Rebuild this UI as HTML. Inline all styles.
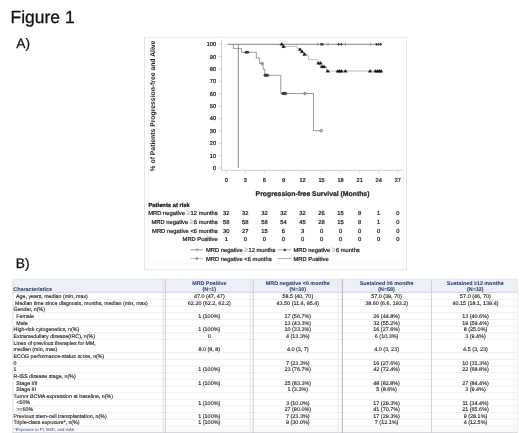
<!DOCTYPE html>
<html><head><meta charset="utf-8"><style>
html,body{margin:0;padding:0;background:#fff;}
svg{display:block;font-family:"Liberation Sans",sans-serif;will-change:transform;text-rendering:geometricPrecision;}
</style></head><body>
<svg width="520" height="433" viewBox="0 0 520 433">
<text x="10.5" y="22.7" font-size="17.5" fill="#111" stroke="#111" stroke-width="0.3">Figure 1</text>
<text x="16.2" y="47.5" font-size="13.8" fill="#111" stroke="#111" stroke-width="0.25">A)</text>
<text x="15.7" y="268.3" font-size="13.8" fill="#111" stroke="#111" stroke-width="0.25">B)</text>
<rect x="144.5" y="37.3" width="262" height="232.5" fill="none" stroke="#e6e6e6" stroke-width="1"/>
<path d="M148.5 40 V264 H403.5 V40" fill="none" stroke="#f3f3f3" stroke-width="0.8"/>
<path d="M221.5 39.8 V170.3 H402.6" fill="none" stroke="#c4c4c4" stroke-width="0.8"/>
<path d="M218 168.00 H221.5" stroke="#c8c8c8" stroke-width="0.7"/>
<text x="216.00" y="169.96" font-size="5.6" text-anchor="end" font-weight="normal" fill="#222" stroke="#222" stroke-width="0.24">0</text>
<path d="M218 155.63 H221.5" stroke="#c8c8c8" stroke-width="0.7"/>
<text x="216.00" y="157.59" font-size="5.6" text-anchor="end" font-weight="normal" fill="#222" stroke="#222" stroke-width="0.24">10</text>
<path d="M218 143.26 H221.5" stroke="#c8c8c8" stroke-width="0.7"/>
<text x="216.00" y="145.22" font-size="5.6" text-anchor="end" font-weight="normal" fill="#222" stroke="#222" stroke-width="0.24">20</text>
<path d="M218 130.89 H221.5" stroke="#c8c8c8" stroke-width="0.7"/>
<text x="216.00" y="132.85" font-size="5.6" text-anchor="end" font-weight="normal" fill="#222" stroke="#222" stroke-width="0.24">30</text>
<path d="M218 118.52 H221.5" stroke="#c8c8c8" stroke-width="0.7"/>
<text x="216.00" y="120.48" font-size="5.6" text-anchor="end" font-weight="normal" fill="#222" stroke="#222" stroke-width="0.24">40</text>
<path d="M218 106.15 H221.5" stroke="#c8c8c8" stroke-width="0.7"/>
<text x="216.00" y="108.11" font-size="5.6" text-anchor="end" font-weight="normal" fill="#222" stroke="#222" stroke-width="0.24">50</text>
<path d="M218 93.78 H221.5" stroke="#c8c8c8" stroke-width="0.7"/>
<text x="216.00" y="95.74" font-size="5.6" text-anchor="end" font-weight="normal" fill="#222" stroke="#222" stroke-width="0.24">60</text>
<path d="M218 81.41 H221.5" stroke="#c8c8c8" stroke-width="0.7"/>
<text x="216.00" y="83.37" font-size="5.6" text-anchor="end" font-weight="normal" fill="#222" stroke="#222" stroke-width="0.24">70</text>
<path d="M218 69.04 H221.5" stroke="#c8c8c8" stroke-width="0.7"/>
<text x="216.00" y="71.00" font-size="5.6" text-anchor="end" font-weight="normal" fill="#222" stroke="#222" stroke-width="0.24">80</text>
<path d="M218 56.67 H221.5" stroke="#c8c8c8" stroke-width="0.7"/>
<text x="216.00" y="58.63" font-size="5.6" text-anchor="end" font-weight="normal" fill="#222" stroke="#222" stroke-width="0.24">90</text>
<path d="M218 44.30 H221.5" stroke="#c8c8c8" stroke-width="0.7"/>
<text x="216.00" y="46.26" font-size="5.6" text-anchor="end" font-weight="normal" fill="#222" stroke="#222" stroke-width="0.24">100</text>
<path d="M226.30 170.3 V172.6" stroke="#c8c8c8" stroke-width="0.7"/>
<text x="226.30" y="182.16" font-size="5.6" text-anchor="middle" font-weight="normal" fill="#222" stroke="#222" stroke-width="0.24">0</text>
<path d="M245.35 170.3 V172.6" stroke="#c8c8c8" stroke-width="0.7"/>
<text x="245.35" y="182.16" font-size="5.6" text-anchor="middle" font-weight="normal" fill="#222" stroke="#222" stroke-width="0.24">3</text>
<path d="M264.40 170.3 V172.6" stroke="#c8c8c8" stroke-width="0.7"/>
<text x="264.40" y="182.16" font-size="5.6" text-anchor="middle" font-weight="normal" fill="#222" stroke="#222" stroke-width="0.24">6</text>
<path d="M283.45 170.3 V172.6" stroke="#c8c8c8" stroke-width="0.7"/>
<text x="283.45" y="182.16" font-size="5.6" text-anchor="middle" font-weight="normal" fill="#222" stroke="#222" stroke-width="0.24">9</text>
<path d="M302.50 170.3 V172.6" stroke="#c8c8c8" stroke-width="0.7"/>
<text x="302.50" y="182.16" font-size="5.6" text-anchor="middle" font-weight="normal" fill="#222" stroke="#222" stroke-width="0.24">12</text>
<path d="M321.55 170.3 V172.6" stroke="#c8c8c8" stroke-width="0.7"/>
<text x="321.55" y="182.16" font-size="5.6" text-anchor="middle" font-weight="normal" fill="#222" stroke="#222" stroke-width="0.24">15</text>
<path d="M340.60 170.3 V172.6" stroke="#c8c8c8" stroke-width="0.7"/>
<text x="340.60" y="182.16" font-size="5.6" text-anchor="middle" font-weight="normal" fill="#222" stroke="#222" stroke-width="0.24">18</text>
<path d="M359.65 170.3 V172.6" stroke="#c8c8c8" stroke-width="0.7"/>
<text x="359.65" y="182.16" font-size="5.6" text-anchor="middle" font-weight="normal" fill="#222" stroke="#222" stroke-width="0.24">21</text>
<path d="M378.70 170.3 V172.6" stroke="#c8c8c8" stroke-width="0.7"/>
<text x="378.70" y="182.16" font-size="5.6" text-anchor="middle" font-weight="normal" fill="#222" stroke="#222" stroke-width="0.24">24</text>
<path d="M397.75 170.3 V172.6" stroke="#c8c8c8" stroke-width="0.7"/>
<text x="397.75" y="182.16" font-size="5.6" text-anchor="middle" font-weight="normal" fill="#222" stroke="#222" stroke-width="0.24">27</text>
<text transform="translate(155.2 106) rotate(-90)" x="0" y="0" font-size="6.8" font-weight="bold" text-anchor="middle" fill="#222">% of Patients Progression-free and Alive</text>
<text x="312.50" y="195.59" font-size="6.83" text-anchor="middle" font-weight="bold" fill="#222" stroke="#222" stroke-width="0.24">Progression-free Survival (Months)</text>
<path d="M238.3 44.3 V168" fill="none" stroke="#666" stroke-width="0.75"/>
<path d="M233.4 44.3 V48.4 H241.5 V52.3 H256.3 V58.0 H259.2 V58.4 H259.6 V63.5 H263.0 V69.2 H264.8 V75.3 H280.8 V93.5 H313.5 V130.7 H321.1" fill="none" stroke="#7a7a7a" stroke-width="0.75"/>
<path d="M282 44.3 V46.4 H297.3 V48.5 H299.5 V50.5 H301.5 V52.5 H303.5 V54.5 H307.6 V55.8 H308.4 V59.6 H317 V63 H320 V66.5 H326.5 V71 H381" fill="none" stroke="#aaaaaa" stroke-width="0.8"/>
<path d="M227.3 44.3 H381.5" fill="none" stroke="#666" stroke-width="0.8"/>
<path d="M317.7 42.8 V45.8" stroke="#777" stroke-width="0.7"/>
<ellipse cx="321.2" cy="44.3" rx="0.9" ry="1.4" fill="#333"/>
<ellipse cx="322.6" cy="44.3" rx="0.9" ry="1.4" fill="#333"/>
<path d="M328 42.8 V45.8" stroke="#777" stroke-width="0.7"/>
<ellipse cx="338.5" cy="44.3" rx="0.9" ry="1.4" fill="#333"/>
<ellipse cx="341.3" cy="44.3" rx="0.9" ry="1.4" fill="#333"/>
<path d="M345.4 42.8 V45.8" stroke="#777" stroke-width="0.7"/>
<path d="M370.4 42.8 V45.8" stroke="#777" stroke-width="0.7"/>
<ellipse cx="376.5" cy="44.3" rx="0.9" ry="1.4" fill="#333"/>
<ellipse cx="378.6" cy="44.3" rx="0.9" ry="1.4" fill="#333"/>
<ellipse cx="380.8" cy="44.3" rx="0.9" ry="1.4" fill="#333"/>
<path d="M279.80 45.23 L281.70 42.38 L283.60 45.23 Z" fill="#111" stroke="#111" stroke-width="0.3" stroke-linejoin="round"/>
<path d="M281.70 47.63 L283.60 44.78 L285.50 47.63 Z" fill="#111" stroke="#111" stroke-width="0.3" stroke-linejoin="round"/>
<path d="M298.10 50.53 L300.00 47.68 L301.90 50.53 Z" fill="#111" stroke="#111" stroke-width="0.3" stroke-linejoin="round"/>
<path d="M300.10 52.73 L302.00 49.88 L303.90 52.73 Z" fill="#111" stroke="#111" stroke-width="0.3" stroke-linejoin="round"/>
<path d="M302.60 55.44 L304.50 52.59 L306.40 55.44 Z" fill="#111" stroke="#111" stroke-width="0.3" stroke-linejoin="round"/>
<path d="M316.60 64.23 L318.50 61.38 L320.40 64.23 Z" fill="#111" stroke="#111" stroke-width="0.3" stroke-linejoin="round"/>
<path d="M318.70 64.23 L320.60 61.38 L322.50 64.23 Z" fill="#111" stroke="#111" stroke-width="0.3" stroke-linejoin="round"/>
<path d="M320.10 67.73 L322.00 64.89 L323.90 67.73 Z" fill="#111" stroke="#111" stroke-width="0.3" stroke-linejoin="round"/>
<path d="M322.10 67.73 L324.00 64.89 L325.90 67.73 Z" fill="#111" stroke="#111" stroke-width="0.3" stroke-linejoin="round"/>
<path d="M325.90 72.23 L327.80 69.39 L329.70 72.23 Z" fill="#111" stroke="#111" stroke-width="0.3" stroke-linejoin="round"/>
<path d="M335.90 72.23 L337.80 69.39 L339.70 72.23 Z" fill="#111" stroke="#111" stroke-width="0.3" stroke-linejoin="round"/>
<path d="M337.70 72.23 L339.60 69.39 L341.50 72.23 Z" fill="#111" stroke="#111" stroke-width="0.3" stroke-linejoin="round"/>
<path d="M339.50 72.23 L341.40 69.39 L343.30 72.23 Z" fill="#111" stroke="#111" stroke-width="0.3" stroke-linejoin="round"/>
<path d="M343.50 72.23 L345.40 69.39 L347.30 72.23 Z" fill="#111" stroke="#111" stroke-width="0.3" stroke-linejoin="round"/>
<path d="M368.20 72.23 L370.10 69.39 L372.00 72.23 Z" fill="#111" stroke="#111" stroke-width="0.3" stroke-linejoin="round"/>
<path d="M373.60 72.23 L375.50 69.39 L377.40 72.23 Z" fill="#111" stroke="#111" stroke-width="0.3" stroke-linejoin="round"/>
<path d="M375.60 72.23 L377.50 69.39 L379.40 72.23 Z" fill="#111" stroke="#111" stroke-width="0.3" stroke-linejoin="round"/>
<path d="M377.60 72.23 L379.50 69.39 L381.40 72.23 Z" fill="#111" stroke="#111" stroke-width="0.3" stroke-linejoin="round"/>
<path d="M379.10 72.23 L381.00 69.39 L382.90 72.23 Z" fill="#111" stroke="#111" stroke-width="0.3" stroke-linejoin="round"/>
<circle cx="246.0" cy="52.3" r="1.05" fill="#444" stroke="#222" stroke-width="0.7"/>
<circle cx="247.8" cy="52.3" r="1.05" fill="#444" stroke="#222" stroke-width="0.7"/>
<circle cx="262.2" cy="63.5" r="1.2" fill="none" stroke="#666" stroke-width="0.7"/>
<circle cx="265.0" cy="75.3" r="1.15" fill="#555" stroke="#222" stroke-width="0.7"/>
<circle cx="266.4" cy="75.3" r="1.15" fill="#555" stroke="#222" stroke-width="0.7"/>
<circle cx="267.6" cy="75.3" r="1.15" fill="#555" stroke="#222" stroke-width="0.7"/>
<circle cx="283.0" cy="93.5" r="1.15" fill="#555" stroke="#222" stroke-width="0.7"/>
<circle cx="284.3" cy="93.5" r="1.15" fill="#555" stroke="#222" stroke-width="0.7"/>
<circle cx="285.6" cy="93.5" r="1.15" fill="#555" stroke="#222" stroke-width="0.7"/>
<circle cx="305" cy="93.5" r="1.4" fill="#999" stroke="#888" stroke-width="0.7"/>
<circle cx="321.1" cy="130.7" r="1.4" fill="#bbb" stroke="#777" stroke-width="0.7"/>
<text x="148.50" y="206.53" font-size="5.8" text-anchor="start" font-weight="bold" fill="#111" stroke="#111" stroke-width="0.24">Patients at risk</text>
<text x="217.70" y="215.23" font-size="5.8" text-anchor="end" font-weight="normal" fill="#222" stroke="#222" stroke-width="0.24">MRD negative <tspan font-size="7.4" fill="#b0b0b0" stroke="#b0b0b0" stroke-width="0.1">≥</tspan>12 months</text>
<text x="226.30" y="215.23" font-size="5.8" text-anchor="middle" font-weight="normal" fill="#222" stroke="#222" stroke-width="0.24">32</text>
<text x="245.35" y="215.23" font-size="5.8" text-anchor="middle" font-weight="normal" fill="#222" stroke="#222" stroke-width="0.24">32</text>
<text x="264.40" y="215.23" font-size="5.8" text-anchor="middle" font-weight="normal" fill="#222" stroke="#222" stroke-width="0.24">32</text>
<text x="283.45" y="215.23" font-size="5.8" text-anchor="middle" font-weight="normal" fill="#222" stroke="#222" stroke-width="0.24">32</text>
<text x="302.50" y="215.23" font-size="5.8" text-anchor="middle" font-weight="normal" fill="#222" stroke="#222" stroke-width="0.24">32</text>
<text x="321.55" y="215.23" font-size="5.8" text-anchor="middle" font-weight="normal" fill="#222" stroke="#222" stroke-width="0.24">26</text>
<text x="340.60" y="215.23" font-size="5.8" text-anchor="middle" font-weight="normal" fill="#222" stroke="#222" stroke-width="0.24">15</text>
<text x="359.65" y="215.23" font-size="5.8" text-anchor="middle" font-weight="normal" fill="#222" stroke="#222" stroke-width="0.24">8</text>
<text x="378.70" y="215.23" font-size="5.8" text-anchor="middle" font-weight="normal" fill="#222" stroke="#222" stroke-width="0.24">1</text>
<text x="397.75" y="215.23" font-size="5.8" text-anchor="middle" font-weight="normal" fill="#222" stroke="#222" stroke-width="0.24">0</text>
<text x="217.70" y="223.83" font-size="5.8" text-anchor="end" font-weight="normal" fill="#222" stroke="#222" stroke-width="0.24">MRD negative <tspan font-size="7.4" fill="#b0b0b0" stroke="#b0b0b0" stroke-width="0.1">≥</tspan>6 months</text>
<text x="226.30" y="223.83" font-size="5.8" text-anchor="middle" font-weight="normal" fill="#222" stroke="#222" stroke-width="0.24">58</text>
<text x="245.35" y="223.83" font-size="5.8" text-anchor="middle" font-weight="normal" fill="#222" stroke="#222" stroke-width="0.24">58</text>
<text x="264.40" y="223.83" font-size="5.8" text-anchor="middle" font-weight="normal" fill="#222" stroke="#222" stroke-width="0.24">58</text>
<text x="283.45" y="223.83" font-size="5.8" text-anchor="middle" font-weight="normal" fill="#222" stroke="#222" stroke-width="0.24">54</text>
<text x="302.50" y="223.83" font-size="5.8" text-anchor="middle" font-weight="normal" fill="#222" stroke="#222" stroke-width="0.24">45</text>
<text x="321.55" y="223.83" font-size="5.8" text-anchor="middle" font-weight="normal" fill="#222" stroke="#222" stroke-width="0.24">28</text>
<text x="340.60" y="223.83" font-size="5.8" text-anchor="middle" font-weight="normal" fill="#222" stroke="#222" stroke-width="0.24">15</text>
<text x="359.65" y="223.83" font-size="5.8" text-anchor="middle" font-weight="normal" fill="#222" stroke="#222" stroke-width="0.24">8</text>
<text x="378.70" y="223.83" font-size="5.8" text-anchor="middle" font-weight="normal" fill="#222" stroke="#222" stroke-width="0.24">1</text>
<text x="397.75" y="223.83" font-size="5.8" text-anchor="middle" font-weight="normal" fill="#222" stroke="#222" stroke-width="0.24">0</text>
<text x="217.70" y="232.63" font-size="5.8" text-anchor="end" font-weight="normal" fill="#222" stroke="#222" stroke-width="0.24">MRD negative &lt;6 months</text>
<text x="226.30" y="232.63" font-size="5.8" text-anchor="middle" font-weight="normal" fill="#222" stroke="#222" stroke-width="0.24">30</text>
<text x="245.35" y="232.63" font-size="5.8" text-anchor="middle" font-weight="normal" fill="#222" stroke="#222" stroke-width="0.24">27</text>
<text x="264.40" y="232.63" font-size="5.8" text-anchor="middle" font-weight="normal" fill="#222" stroke="#222" stroke-width="0.24">15</text>
<text x="283.45" y="232.63" font-size="5.8" text-anchor="middle" font-weight="normal" fill="#222" stroke="#222" stroke-width="0.24">6</text>
<text x="302.50" y="232.63" font-size="5.8" text-anchor="middle" font-weight="normal" fill="#222" stroke="#222" stroke-width="0.24">3</text>
<text x="321.55" y="232.63" font-size="5.8" text-anchor="middle" font-weight="normal" fill="#222" stroke="#222" stroke-width="0.24">0</text>
<text x="340.60" y="232.63" font-size="5.8" text-anchor="middle" font-weight="normal" fill="#222" stroke="#222" stroke-width="0.24">0</text>
<text x="359.65" y="232.63" font-size="5.8" text-anchor="middle" font-weight="normal" fill="#222" stroke="#222" stroke-width="0.24">0</text>
<text x="378.70" y="232.63" font-size="5.8" text-anchor="middle" font-weight="normal" fill="#222" stroke="#222" stroke-width="0.24">0</text>
<text x="397.75" y="232.63" font-size="5.8" text-anchor="middle" font-weight="normal" fill="#222" stroke="#222" stroke-width="0.24">0</text>
<text x="217.70" y="241.03" font-size="5.8" text-anchor="end" font-weight="normal" fill="#222" stroke="#222" stroke-width="0.24">MRD Positive</text>
<text x="226.30" y="241.03" font-size="5.8" text-anchor="middle" font-weight="normal" fill="#222" stroke="#222" stroke-width="0.24">1</text>
<text x="245.35" y="241.03" font-size="5.8" text-anchor="middle" font-weight="normal" fill="#222" stroke="#222" stroke-width="0.24">0</text>
<text x="264.40" y="241.03" font-size="5.8" text-anchor="middle" font-weight="normal" fill="#222" stroke="#222" stroke-width="0.24">0</text>
<text x="283.45" y="241.03" font-size="5.8" text-anchor="middle" font-weight="normal" fill="#222" stroke="#222" stroke-width="0.24">0</text>
<text x="302.50" y="241.03" font-size="5.8" text-anchor="middle" font-weight="normal" fill="#222" stroke="#222" stroke-width="0.24">0</text>
<text x="321.55" y="241.03" font-size="5.8" text-anchor="middle" font-weight="normal" fill="#222" stroke="#222" stroke-width="0.24">0</text>
<text x="340.60" y="241.03" font-size="5.8" text-anchor="middle" font-weight="normal" fill="#222" stroke="#222" stroke-width="0.24">0</text>
<text x="359.65" y="241.03" font-size="5.8" text-anchor="middle" font-weight="normal" fill="#222" stroke="#222" stroke-width="0.24">0</text>
<text x="378.70" y="241.03" font-size="5.8" text-anchor="middle" font-weight="normal" fill="#222" stroke="#222" stroke-width="0.24">0</text>
<text x="397.75" y="241.03" font-size="5.8" text-anchor="middle" font-weight="normal" fill="#222" stroke="#222" stroke-width="0.24">0</text>
<path d="M190.6 249.8 H203" stroke="#666" stroke-width="0.7"/><path d="M197.2 248.4 V251.2" stroke="#666" stroke-width="0.7"/>
<text x="206.00" y="251.73" font-size="5.8" text-anchor="start" font-weight="normal" fill="#222" stroke="#222" stroke-width="0.24">MRD negative <tspan font-size="7.4" fill="#b0b0b0" stroke="#b0b0b0" stroke-width="0.1">≥</tspan>12 months</text>
<path d="M190.6 258.5 H203" stroke="#999" stroke-width="0.7"/>
<circle cx="196.8" cy="258.5" r="1.1" fill="#999" stroke="#888" stroke-width="0.7"/>
<text x="206.00" y="260.63" font-size="5.8" text-anchor="start" font-weight="normal" fill="#222" stroke="#222" stroke-width="0.24">MRD negative &lt;6 months</text>
<path d="M277.7 249.8 H291.5" stroke="#888" stroke-width="0.7"/>
<path d="M283.50 250.65 L284.80 248.70 L286.10 250.65 Z" fill="#111" stroke="#111" stroke-width="0.3" stroke-linejoin="round"/>
<text x="293.50" y="251.73" font-size="5.8" text-anchor="start" font-weight="normal" fill="#222" stroke="#222" stroke-width="0.24">MRD negative <tspan font-size="7.4" fill="#b0b0b0" stroke="#b0b0b0" stroke-width="0.1">≥</tspan>6 months</text>
<path d="M277.7 258.5 H291.5" stroke="#888" stroke-width="0.7"/>
<text x="293.50" y="260.63" font-size="5.8" text-anchor="start" font-weight="normal" fill="#222" stroke="#222" stroke-width="0.24">MRD Positive</text>
<rect x="12.5" y="279.2" width="505.1" height="13.100000000000023" fill="#eceff7"/>
<path d="M12.5 279.2 H517.6" stroke="#e2e5ec" stroke-width="0.8"/>
<path d="M12.5 292.3 H517.6" stroke="#cfd3da" stroke-width="0.9"/>
<path d="M12.5 299.55 H517.6" stroke="#e9e9e9" stroke-width="0.7"/>
<path d="M12.5 306.20 H517.6" stroke="#e9e9e9" stroke-width="0.7"/>
<path d="M12.5 312.85 H517.6" stroke="#e9e9e9" stroke-width="0.7"/>
<path d="M12.5 319.50 H517.6" stroke="#e9e9e9" stroke-width="0.7"/>
<path d="M12.5 326.15 H517.6" stroke="#e9e9e9" stroke-width="0.7"/>
<path d="M12.5 332.80 H517.6" stroke="#e9e9e9" stroke-width="0.7"/>
<path d="M12.5 339.45 H517.6" stroke="#e9e9e9" stroke-width="0.7"/>
<path d="M12.5 352.75 H517.6" stroke="#e9e9e9" stroke-width="0.7"/>
<path d="M12.5 359.40 H517.6" stroke="#e9e9e9" stroke-width="0.7"/>
<path d="M12.5 366.05 H517.6" stroke="#e9e9e9" stroke-width="0.7"/>
<path d="M12.5 372.70 H517.6" stroke="#e9e9e9" stroke-width="0.7"/>
<path d="M12.5 379.35 H517.6" stroke="#e9e9e9" stroke-width="0.7"/>
<path d="M12.5 386.00 H517.6" stroke="#e9e9e9" stroke-width="0.7"/>
<path d="M12.5 392.65 H517.6" stroke="#e9e9e9" stroke-width="0.7"/>
<path d="M12.5 399.30 H517.6" stroke="#e9e9e9" stroke-width="0.7"/>
<path d="M12.5 405.95 H517.6" stroke="#e9e9e9" stroke-width="0.7"/>
<path d="M12.5 412.60 H517.6" stroke="#e9e9e9" stroke-width="0.7"/>
<path d="M12.5 419.25 H517.6" stroke="#e9e9e9" stroke-width="0.7"/>
<path d="M12.5 425.90 H517.6" stroke="#e9e9e9" stroke-width="0.7"/>
<rect x="12.5" y="425.90" width="505.1" height="7.10" fill="#fafafc"/>
<path d="M12.5 432.5 H517.6" stroke="#d8d8dc" stroke-width="1"/>
<path d="M163.2 279.2 V433" stroke="#dedede" stroke-width="0.8"/>
<path d="M165.3 279.2 V433" stroke="#c4c4c4" stroke-width="0.8"/>
<path d="M250.4 279.2 V433" stroke="#e2e2e2" stroke-width="0.8"/>
<path d="M253.2 279.2 V433" stroke="#c4c4c4" stroke-width="0.8"/>
<path d="M338.3 279.2 V433" stroke="#e2e2e2" stroke-width="0.8"/>
<path d="M342.3 279.2 V433" stroke="#a8a8a8" stroke-width="0.8"/>
<path d="M431.5 279.2 V433" stroke="#cccccc" stroke-width="0.8"/>
<path d="M514.0 279.2 V433" stroke="#eeeeee" stroke-width="0.8"/>
<path d="M12.8 279.2 V433" stroke="#dddddd" stroke-width="0.8"/>
<path d="M517.6 279.2 V433" stroke="#e6e6e6" stroke-width="0.8"/>
<text x="13.30" y="290.78" font-size="5.36" text-anchor="start" font-weight="bold" fill="#2f3b72" stroke="#2f3b72" stroke-width="0.05">Characteristics</text>
<text x="209.30" y="284.78" font-size="5.36" text-anchor="middle" font-weight="bold" fill="#2f3b72" stroke="#2f3b72" stroke-width="0.05">MRD Positive</text>
<text x="209.30" y="290.88" font-size="5.36" text-anchor="middle" font-weight="bold" fill="#2f3b72" stroke="#2f3b72" stroke-width="0.05">(N=1)</text>
<text x="297.80" y="284.78" font-size="5.36" text-anchor="middle" font-weight="bold" fill="#2f3b72" stroke="#2f3b72" stroke-width="0.05">MRD negative &lt;6 months</text>
<text x="297.80" y="290.88" font-size="5.36" text-anchor="middle" font-weight="bold" fill="#2f3b72" stroke="#2f3b72" stroke-width="0.05">(N=30)</text>
<text x="386.60" y="284.78" font-size="5.36" text-anchor="middle" font-weight="bold" fill="#2f3b72" stroke="#2f3b72" stroke-width="0.05">Sustained ≥6 months</text>
<text x="386.60" y="290.88" font-size="5.36" text-anchor="middle" font-weight="bold" fill="#2f3b72" stroke="#2f3b72" stroke-width="0.05">(N=58)</text>
<text x="475.30" y="284.78" font-size="5.36" text-anchor="middle" font-weight="bold" fill="#2f3b72" stroke="#2f3b72" stroke-width="0.05">Sustained ≥12 months</text>
<text x="475.30" y="290.88" font-size="5.36" text-anchor="middle" font-weight="bold" fill="#2f3b72" stroke="#2f3b72" stroke-width="0.05">(N=32)</text>
<text x="16.10" y="298.05" font-size="5.28" text-anchor="start" font-weight="normal" fill="#1c1c1c" stroke="#1c1c1c" stroke-width="0.13">Age, years, median (min, max)</text>
<text x="15.00" y="304.70" font-size="5.28" text-anchor="start" font-weight="normal" fill="#1c1c1c" stroke="#1c1c1c" stroke-width="0.13">Median time since diagnosis, months, median (min, max)</text>
<text x="13.60" y="311.35" font-size="5.28" text-anchor="start" font-weight="normal" fill="#1c1c1c" stroke="#1c1c1c" stroke-width="0.13">Gender, n(%)</text>
<text x="16.30" y="318.00" font-size="5.28" text-anchor="start" font-weight="normal" fill="#1c1c1c" stroke="#1c1c1c" stroke-width="0.13">Female</text>
<text x="16.30" y="324.65" font-size="5.28" text-anchor="start" font-weight="normal" fill="#1c1c1c" stroke="#1c1c1c" stroke-width="0.13">Male</text>
<text x="13.60" y="331.30" font-size="5.28" text-anchor="start" font-weight="normal" fill="#1c1c1c" stroke="#1c1c1c" stroke-width="0.13">High-risk cytogenetics, n(%)</text>
<text x="13.60" y="337.95" font-size="5.28" text-anchor="start" font-weight="normal" fill="#1c1c1c" stroke="#1c1c1c" stroke-width="0.13">Extramedullary disease(IRC), n(%)</text>
<text x="13.60" y="344.60" font-size="5.28" text-anchor="start" font-weight="normal" fill="#1c1c1c" stroke="#1c1c1c" stroke-width="0.13">Lines of previous therapies for MM,</text>
<text x="13.60" y="351.25" font-size="5.28" text-anchor="start" font-weight="normal" fill="#1c1c1c" stroke="#1c1c1c" stroke-width="0.13">median (min, max)</text>
<text x="13.60" y="357.90" font-size="5.28" text-anchor="start" font-weight="normal" fill="#1c1c1c" stroke="#1c1c1c" stroke-width="0.13">ECOG performance-status score, n(%)</text>
<text x="13.60" y="364.55" font-size="5.28" text-anchor="start" font-weight="normal" fill="#1c1c1c" stroke="#1c1c1c" stroke-width="0.13">0</text>
<text x="13.60" y="371.20" font-size="5.28" text-anchor="start" font-weight="normal" fill="#1c1c1c" stroke="#1c1c1c" stroke-width="0.13">1</text>
<text x="13.60" y="377.85" font-size="5.28" text-anchor="start" font-weight="normal" fill="#1c1c1c" stroke="#1c1c1c" stroke-width="0.13">R-ISS disease stage, n(%)</text>
<text x="16.30" y="384.50" font-size="5.28" text-anchor="start" font-weight="normal" fill="#1c1c1c" stroke="#1c1c1c" stroke-width="0.13">Stage I/II</text>
<text x="16.30" y="391.15" font-size="5.28" text-anchor="start" font-weight="normal" fill="#1c1c1c" stroke="#1c1c1c" stroke-width="0.13">Stage III</text>
<text x="13.60" y="397.80" font-size="5.28" text-anchor="start" font-weight="normal" fill="#1c1c1c" stroke="#1c1c1c" stroke-width="0.13">Tumor BCMA expression at baseline, n(%)</text>
<text x="16.50" y="404.45" font-size="5.28" text-anchor="start" font-weight="normal" fill="#1c1c1c" stroke="#1c1c1c" stroke-width="0.13">&lt;50%</text>
<text x="16.50" y="411.10" font-size="5.28" text-anchor="start" font-weight="normal" fill="#1c1c1c" stroke="#1c1c1c" stroke-width="0.13">&gt;=50%</text>
<text x="13.60" y="417.75" font-size="5.28" text-anchor="start" font-weight="normal" fill="#1c1c1c" stroke="#1c1c1c" stroke-width="0.13">Previous stem-cell transplantation, n(%)</text>
<text x="13.60" y="424.40" font-size="5.28" text-anchor="start" font-weight="normal" fill="#1c1c1c" stroke="#1c1c1c" stroke-width="0.13">Triple-class exposure*, n(%)</text>
<text x="14.30" y="430.69" font-size="4.25" text-anchor="start" font-weight="normal" fill="#3a4a9a">*Exposure to PI, IMiD, and mAb</text>
<text x="209.30" y="298.11" font-size="5.45" text-anchor="middle" font-weight="normal" fill="#1c1c1c" stroke="#1c1c1c" stroke-width="0.13">47.0 (47, 47)</text>
<text x="297.80" y="298.11" font-size="5.45" text-anchor="middle" font-weight="normal" fill="#1c1c1c" stroke="#1c1c1c" stroke-width="0.13">58.5 (40, 70)</text>
<text x="386.60" y="298.11" font-size="5.45" text-anchor="middle" font-weight="normal" fill="#1c1c1c" stroke="#1c1c1c" stroke-width="0.13">57.0 (39, 70)</text>
<text x="475.50" y="298.11" font-size="5.45" text-anchor="middle" font-weight="normal" fill="#1c1c1c" stroke="#1c1c1c" stroke-width="0.13">57.0 (46, 70)</text>
<text x="209.30" y="304.76" font-size="5.45" text-anchor="middle" font-weight="normal" fill="#1c1c1c" stroke="#1c1c1c" stroke-width="0.13">62.20 (62.2, 62.2)</text>
<text x="297.80" y="304.76" font-size="5.45" text-anchor="middle" font-weight="normal" fill="#1c1c1c" stroke="#1c1c1c" stroke-width="0.13">43.50 (11.4, 95.4)</text>
<text x="386.60" y="304.76" font-size="5.45" text-anchor="middle" font-weight="normal" fill="#1c1c1c" stroke="#1c1c1c" stroke-width="0.13">38.60 (6.6, 193.2)</text>
<text x="475.50" y="304.76" font-size="5.45" text-anchor="middle" font-weight="normal" fill="#1c1c1c" stroke="#1c1c1c" stroke-width="0.13">40.15 (18.1, 139.4)</text>
<text x="209.30" y="318.06" font-size="5.45" text-anchor="middle" font-weight="normal" fill="#1c1c1c" stroke="#1c1c1c" stroke-width="0.13">1 (100%)</text>
<text x="297.80" y="318.06" font-size="5.45" text-anchor="middle" font-weight="normal" fill="#1c1c1c" stroke="#1c1c1c" stroke-width="0.13">17 (56.7%)</text>
<text x="386.60" y="318.06" font-size="5.45" text-anchor="middle" font-weight="normal" fill="#1c1c1c" stroke="#1c1c1c" stroke-width="0.13">26 (44.8%)</text>
<text x="475.50" y="318.06" font-size="5.45" text-anchor="middle" font-weight="normal" fill="#1c1c1c" stroke="#1c1c1c" stroke-width="0.13">13 (40.6%)</text>
<text x="297.80" y="324.71" font-size="5.45" text-anchor="middle" font-weight="normal" fill="#1c1c1c" stroke="#1c1c1c" stroke-width="0.13">13 (43.3%)</text>
<text x="386.60" y="324.71" font-size="5.45" text-anchor="middle" font-weight="normal" fill="#1c1c1c" stroke="#1c1c1c" stroke-width="0.13">32 (55.2%)</text>
<text x="475.50" y="324.71" font-size="5.45" text-anchor="middle" font-weight="normal" fill="#1c1c1c" stroke="#1c1c1c" stroke-width="0.13">19 (59.4%)</text>
<text x="209.30" y="331.36" font-size="5.45" text-anchor="middle" font-weight="normal" fill="#1c1c1c" stroke="#1c1c1c" stroke-width="0.13">1 (100%)</text>
<text x="297.80" y="331.36" font-size="5.45" text-anchor="middle" font-weight="normal" fill="#1c1c1c" stroke="#1c1c1c" stroke-width="0.13">10 (33.3%)</text>
<text x="386.60" y="331.36" font-size="5.45" text-anchor="middle" font-weight="normal" fill="#1c1c1c" stroke="#1c1c1c" stroke-width="0.13">16 (27.6%)</text>
<text x="475.50" y="331.36" font-size="5.45" text-anchor="middle" font-weight="normal" fill="#1c1c1c" stroke="#1c1c1c" stroke-width="0.13">8 (25.0%)</text>
<text x="209.30" y="338.01" font-size="5.45" text-anchor="middle" font-weight="normal" fill="#1c1c1c" stroke="#1c1c1c" stroke-width="0.13">0</text>
<text x="297.80" y="338.01" font-size="5.45" text-anchor="middle" font-weight="normal" fill="#1c1c1c" stroke="#1c1c1c" stroke-width="0.13">4 (13.3%)</text>
<text x="386.60" y="338.01" font-size="5.45" text-anchor="middle" font-weight="normal" fill="#1c1c1c" stroke="#1c1c1c" stroke-width="0.13">6 (10.3%)</text>
<text x="475.50" y="338.01" font-size="5.45" text-anchor="middle" font-weight="normal" fill="#1c1c1c" stroke="#1c1c1c" stroke-width="0.13">3 (9.4%)</text>
<text x="209.30" y="351.31" font-size="5.45" text-anchor="middle" font-weight="normal" fill="#1c1c1c" stroke="#1c1c1c" stroke-width="0.13">8.0 (8, 8)</text>
<text x="297.80" y="351.31" font-size="5.45" text-anchor="middle" font-weight="normal" fill="#1c1c1c" stroke="#1c1c1c" stroke-width="0.13">4.0 (3, 7)</text>
<text x="386.60" y="351.31" font-size="5.45" text-anchor="middle" font-weight="normal" fill="#1c1c1c" stroke="#1c1c1c" stroke-width="0.13">4.0 (3, 23)</text>
<text x="475.50" y="351.31" font-size="5.45" text-anchor="middle" font-weight="normal" fill="#1c1c1c" stroke="#1c1c1c" stroke-width="0.13">4.5 (3, 23)</text>
<text x="297.80" y="364.61" font-size="5.45" text-anchor="middle" font-weight="normal" fill="#1c1c1c" stroke="#1c1c1c" stroke-width="0.13">7 (23.3%)</text>
<text x="386.60" y="364.61" font-size="5.45" text-anchor="middle" font-weight="normal" fill="#1c1c1c" stroke="#1c1c1c" stroke-width="0.13">16 (27.6%)</text>
<text x="475.50" y="364.61" font-size="5.45" text-anchor="middle" font-weight="normal" fill="#1c1c1c" stroke="#1c1c1c" stroke-width="0.13">10 (31.3%)</text>
<text x="209.30" y="371.26" font-size="5.45" text-anchor="middle" font-weight="normal" fill="#1c1c1c" stroke="#1c1c1c" stroke-width="0.13">1 (100%)</text>
<text x="297.80" y="371.26" font-size="5.45" text-anchor="middle" font-weight="normal" fill="#1c1c1c" stroke="#1c1c1c" stroke-width="0.13">23 (76.7%)</text>
<text x="386.60" y="371.26" font-size="5.45" text-anchor="middle" font-weight="normal" fill="#1c1c1c" stroke="#1c1c1c" stroke-width="0.13">42 (72.4%)</text>
<text x="475.50" y="371.26" font-size="5.45" text-anchor="middle" font-weight="normal" fill="#1c1c1c" stroke="#1c1c1c" stroke-width="0.13">22 (68.8%)</text>
<text x="209.30" y="384.56" font-size="5.45" text-anchor="middle" font-weight="normal" fill="#1c1c1c" stroke="#1c1c1c" stroke-width="0.13">1 (100%)</text>
<text x="297.80" y="384.56" font-size="5.45" text-anchor="middle" font-weight="normal" fill="#1c1c1c" stroke="#1c1c1c" stroke-width="0.13">25 (83.3%)</text>
<text x="386.60" y="384.56" font-size="5.45" text-anchor="middle" font-weight="normal" fill="#1c1c1c" stroke="#1c1c1c" stroke-width="0.13">48 (82.8%)</text>
<text x="475.50" y="384.56" font-size="5.45" text-anchor="middle" font-weight="normal" fill="#1c1c1c" stroke="#1c1c1c" stroke-width="0.13">27 (84.4%)</text>
<text x="297.80" y="391.21" font-size="5.45" text-anchor="middle" font-weight="normal" fill="#1c1c1c" stroke="#1c1c1c" stroke-width="0.13">1 (3.3%)</text>
<text x="386.60" y="391.21" font-size="5.45" text-anchor="middle" font-weight="normal" fill="#1c1c1c" stroke="#1c1c1c" stroke-width="0.13">5 (8.6%)</text>
<text x="475.50" y="391.21" font-size="5.45" text-anchor="middle" font-weight="normal" fill="#1c1c1c" stroke="#1c1c1c" stroke-width="0.13">3 (9.4%)</text>
<text x="209.30" y="404.51" font-size="5.45" text-anchor="middle" font-weight="normal" fill="#1c1c1c" stroke="#1c1c1c" stroke-width="0.13">1 (100%)</text>
<text x="297.80" y="404.51" font-size="5.45" text-anchor="middle" font-weight="normal" fill="#1c1c1c" stroke="#1c1c1c" stroke-width="0.13">3 (10.0%)</text>
<text x="386.60" y="404.51" font-size="5.45" text-anchor="middle" font-weight="normal" fill="#1c1c1c" stroke="#1c1c1c" stroke-width="0.13">17 (29.3%)</text>
<text x="475.50" y="404.51" font-size="5.45" text-anchor="middle" font-weight="normal" fill="#1c1c1c" stroke="#1c1c1c" stroke-width="0.13">11 (34.4%)</text>
<text x="297.80" y="411.16" font-size="5.45" text-anchor="middle" font-weight="normal" fill="#1c1c1c" stroke="#1c1c1c" stroke-width="0.13">27 (90.0%)</text>
<text x="386.60" y="411.16" font-size="5.45" text-anchor="middle" font-weight="normal" fill="#1c1c1c" stroke="#1c1c1c" stroke-width="0.13">41 (70.7%)</text>
<text x="475.50" y="411.16" font-size="5.45" text-anchor="middle" font-weight="normal" fill="#1c1c1c" stroke="#1c1c1c" stroke-width="0.13">21 (65.6%)</text>
<text x="209.30" y="417.81" font-size="5.45" text-anchor="middle" font-weight="normal" fill="#1c1c1c" stroke="#1c1c1c" stroke-width="0.13">1 (100%)</text>
<text x="297.80" y="417.81" font-size="5.45" text-anchor="middle" font-weight="normal" fill="#1c1c1c" stroke="#1c1c1c" stroke-width="0.13">7 (23.3%)</text>
<text x="386.60" y="417.81" font-size="5.45" text-anchor="middle" font-weight="normal" fill="#1c1c1c" stroke="#1c1c1c" stroke-width="0.13">17 (29.3%)</text>
<text x="475.50" y="417.81" font-size="5.45" text-anchor="middle" font-weight="normal" fill="#1c1c1c" stroke="#1c1c1c" stroke-width="0.13">9 (28.1%)</text>
<text x="209.30" y="424.46" font-size="5.45" text-anchor="middle" font-weight="normal" fill="#1c1c1c" stroke="#1c1c1c" stroke-width="0.13">1 (100%)</text>
<text x="297.80" y="424.46" font-size="5.45" text-anchor="middle" font-weight="normal" fill="#1c1c1c" stroke="#1c1c1c" stroke-width="0.13">9 (30.0%)</text>
<text x="386.60" y="424.46" font-size="5.45" text-anchor="middle" font-weight="normal" fill="#1c1c1c" stroke="#1c1c1c" stroke-width="0.13">7 (12.1%)</text>
<text x="475.50" y="424.46" font-size="5.45" text-anchor="middle" font-weight="normal" fill="#1c1c1c" stroke="#1c1c1c" stroke-width="0.13">4 (12.5%)</text>
</svg>
</body></html>
